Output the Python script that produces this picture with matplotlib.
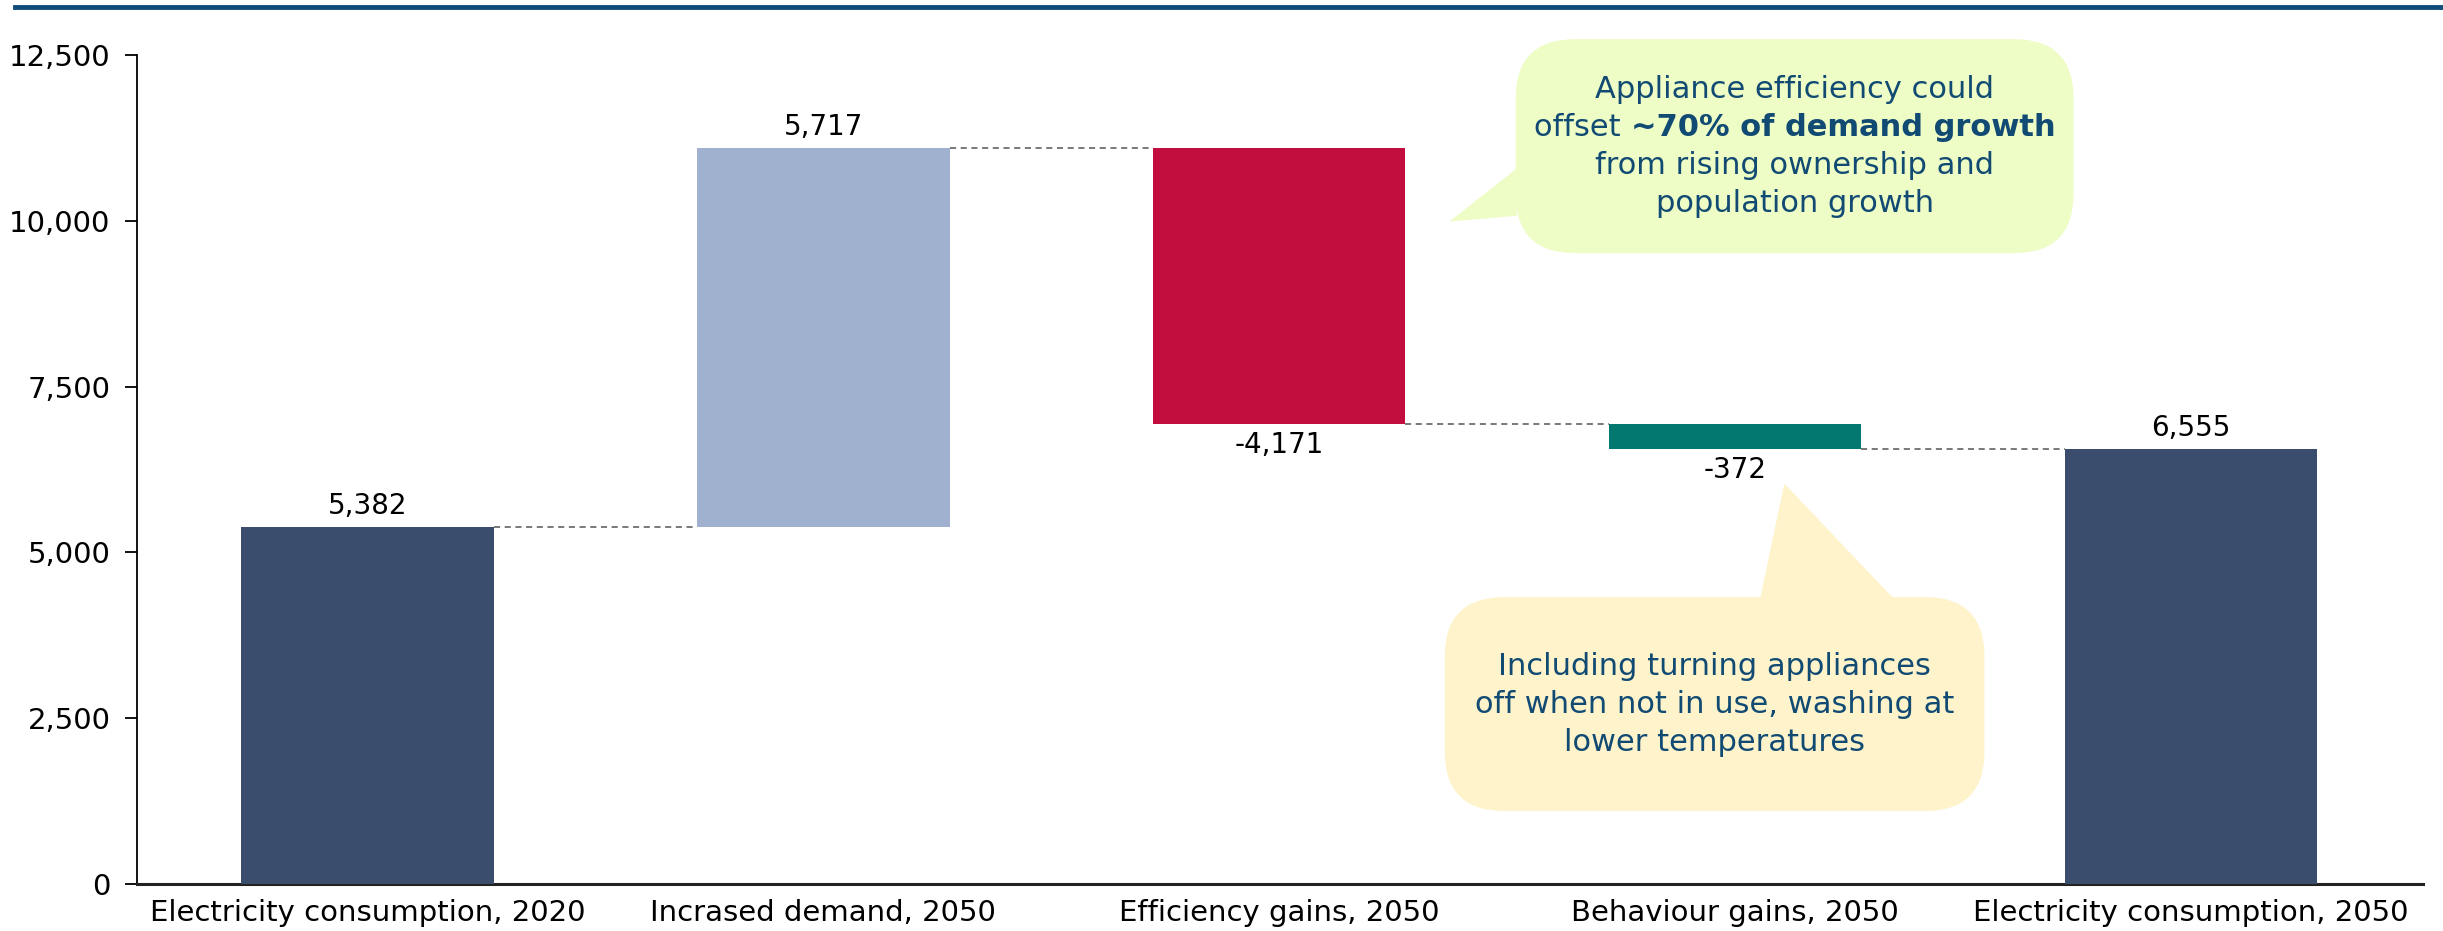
"""
Household electricity consumption bridge, 2020 -> 2050.
Waterfall of demand growth, appliance efficiency and behaviour savings.
"""

import matplotlib.pyplot as plt
from matplotlib.patches import FancyBboxPatch, Polygon
from matplotlib.transforms import offset_copy

plt.rcParams["font.family"] = ["DejaVu Sans"]

CATEGORIES = [
    "Electricity consumption, 2020",
    "Incrased demand, 2050",
    "Efficiency gains, 2050",
    "Behaviour gains, 2050",
    "Electricity consumption, 2050",
]
# first and last are totals, the middle ones are changes
VALUES = [5382, 5717, -4171, -372, 6555]
IS_TOTAL = [True, False, False, False, True]
COLORS = ["#3A4D6C", "#9FB1CF", "#C20E3E", "#037870", "#3A4D6C"]

Y_TICKS = [0, 2500, 5000, 7500, 10000, 12500]

# each line is a list of (text, bold) runs
NOTE_TOP = [
    [("Appliance efficiency could", False)],
    [("offset ", False), ("~70% of demand growth", True)],
    [("from rising ownership and", False)],
    [("population growth", False)],
]
NOTE_BOTTOM = [
    [("Including turning appliances", False)],
    [("off when not in use, washing at", False)],
    [("lower temperatures", False)],
]

TEXT_BLUE = "#114A72"
BAR_W = 0.554
NOTE_SIZE = 22
LINE_PX = 38


def waterfall_spans(values, totals):
    """Return (bottom, height) for each bar of the bridge."""
    spans = []
    level = 0
    for v, tot in zip(values, totals):
        if tot:
            spans.append((0, v))
            level = v
        else:
            start = level
            level += v
            spans.append((min(start, level), abs(v)))
    return spans


def draw_runs(ax, cx, cy, lines):
    """Centre several lines of mixed-weight text around (cx, cy) in axes coords."""
    renderer = ax.figure.canvas.get_renderer()
    n = len(lines)
    for i, runs in enumerate(lines):
        dy = ((n - 1) / 2 - i) * LINE_PX * 72 / 100
        widths = []
        for txt, bold in runs:
            t = ax.text(0, 0, txt, fontsize=NOTE_SIZE,
                        fontweight="bold" if bold else "normal")
            widths.append(t.get_window_extent(renderer).width)
            t.remove()
        x = -sum(widths) / 2
        for (txt, bold), w in zip(runs, widths):
            tr = offset_copy(ax.transAxes, fig=ax.figure,
                             x=x * 72 / 100, y=dy, units="points")
            ax.text(cx, cy, txt, transform=tr, ha="left", va="center",
                    fontsize=NOTE_SIZE, color=TEXT_BLUE, zorder=5,
                    fontweight="bold" if bold else "normal")
            x += w


def add_callout(ax, x0, y0, x1, y1, pointer, face, lines):
    """Rounded speech bubble in axes-fraction coords."""
    box = FancyBboxPatch((x0, y0), x1 - x0, y1 - y0,
                         boxstyle="round,pad=0,rounding_size=0.026",
                         mutation_aspect=(2443 * 0.936) / (931 * 0.8905),
                         transform=ax.transAxes, fc=face, ec="none",
                         zorder=4, clip_on=False)
    ax.add_patch(box)
    tail = Polygon(pointer, closed=True, transform=ax.transAxes,
                   fc=face, ec="none", zorder=4, clip_on=False)
    ax.add_patch(tail)
    draw_runs(ax, (x0 + x1) / 2, (y0 + y1) / 2, lines)


fig = plt.figure(figsize=(24.43, 9.31), dpi=100)
ax = fig.add_axes([0.056, 0.0505, 0.936, 0.8905])

spans = waterfall_spans(VALUES, IS_TOTAL)
xs = list(range(len(CATEGORIES)))
for x, (b, h), c in zip(xs, spans, COLORS):
    ax.bar(x, h, bottom=b, width=BAR_W, color=c, zorder=3)

# dashed connectors between the running levels
level = 0
for i in range(len(VALUES) - 1):
    level = VALUES[i] if IS_TOTAL[i] else level + VALUES[i]
    ax.plot([i + BAR_W / 2, i + 1 - BAR_W / 2], [level, level],
            ls=(0, (4, 3)), lw=1.1, color="#555555", zorder=2)

# value labels
for x, v, (b, h) in zip(xs, VALUES, spans):
    if v >= 0:
        ax.annotate(f"{v:,}", (x, b + h), xytext=(0, 5),
                    textcoords="offset points", ha="center", va="bottom",
                    fontsize=20, color="black")
    else:
        ax.annotate(f"{v:,}", (x, b), xytext=(0, -5),
                    textcoords="offset points", ha="center", va="top",
                    fontsize=20, color="black")

ax.set_xlim(-0.506, 4.51)
ax.set_ylim(0, 12500)
ax.set_yticks(Y_TICKS)
ax.set_yticklabels([f"{t:,}" for t in Y_TICKS])
ax.set_xticks(xs)
ax.set_xticklabels(CATEGORIES)
ax.tick_params(axis="y", length=9, width=1.3, labelsize=21, pad=10)
ax.tick_params(axis="x", length=0, labelsize=21, pad=11)

for side in ("top", "right"):
    ax.spines[side].set_visible(False)
ax.spines["left"].set_linewidth(1.3)
ax.spines["bottom"].set_linewidth(2.2)
ax.spines["bottom"].set_color("#222222")

# callouts
add_callout(ax, 0.603, 0.761, 0.847, 1.019,
            [(0.6035, 0.863), (0.574, 0.799), (0.6035, 0.806)],
            "#EEFCC6", NOTE_TOP)
add_callout(ax, 0.572, 0.088, 0.808, 0.346,
            [(0.710, 0.345), (0.7205, 0.483), (0.768, 0.345)],
            "#FEF3CB", NOTE_BOTTOM)

# rule across the top of the figure
fig.add_artist(plt.Line2D([0.006, 1.0], [0.9925, 0.9925], color="#0F4C7A",
                          lw=3.5, transform=fig.transFigure))

fig.savefig("out.png", dpi=100)
